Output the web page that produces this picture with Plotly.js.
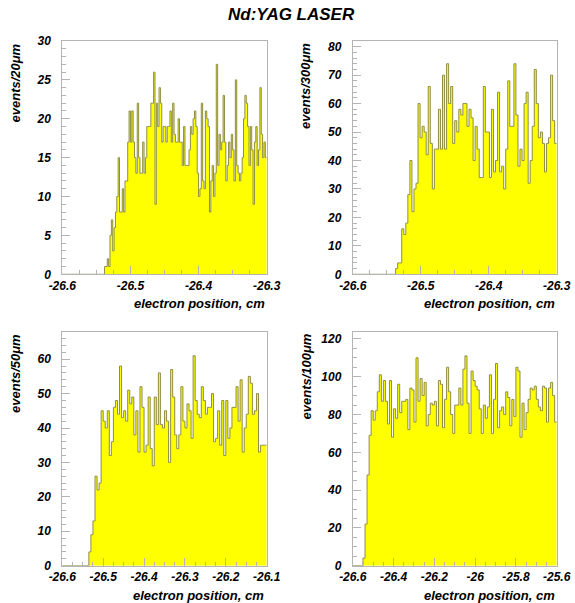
<!DOCTYPE html>
<html>
<head>
<meta charset="utf-8">
<script src="https://cdn.plot.ly/plotly-3.0.1.min.js"></script>
<style>
  html, body { margin: 0; padding: 0; background: #fff; }
  #chart { width: 575px; height: 603px; }
</style>
</head>
<body>
<div id="chart"></div>
<script>
// ---------------- data ----------------
const chartTitle = "Nd:YAG LASER";
const xTitle = "electron position, cm";

// panel 1: 20 um bins from -26.6 to -26.3
const p1Start = -26.6, p1Bin = 0.002;
const p1Counts = [0,0,0,0,0,0,0,0,0,0, 0,0,0,0,0,0,0,0,0,0, 0,0,0,0,0,0,0,0,0,0, 0,
 1,1,2,1,5,7,3,6,8,
 10,15,8,8,11,8,12,12,17,21,
 17,21,17,15,13,22,15,13,13,17,
 13,15,19,19,19,22,22,26,9,22,
 19,24,22,17,19,19,17,19,19,21,
 17,22,18,17,17,20,17,17,14,19,
 14,14,14,16,19,18,20,21,19,13,
 10,11,22,12,11,21,20,19,8,12,
 14,10,13,27,14,18,16,17,23,17,
 12,14,17,15,18,16,12,25,14,13,
 12,13,15,20,23,22,19,14,19,16,
 9,17,19,14,16,24,18,15,17,15];
const p1YTitle = "events/20μm";
const p1XTicks = [-26.6, -26.5, -26.4, -26.3];
const p1XLabels = ["-26.6", "-26.5", "-26.4", "-26.3"];
const p1YTicks = [0, 5, 10, 15, 20, 25, 30];

// panel 2: 30 um bins from -26.6 to -26.3
const p2Start = -26.6, p2Bin = 0.003;
const p2Counts = [0,0,0,0,0,0,0,0,0,0, 0,0,0,0,0,0,0,0,0,0, 0,
 2,4,4,16,14,18,28,40,22,
 30,32,60,48,52,50,42,66,46,30,
 44,44,58,44,70,44,74,60,66,46,
 54,50,58,56,60,60,52,58,55,40,
 52,44,34,34,66,50,50,34,58,36,
 40,64,36,38,30,44,68,52,52,74,
 56,38,44,40,60,64,32,40,52,72,
 60,48,50,46,36,46,48,70,54,46];
const p2YTitle = "events/300μm";
const p2XTicks = [-26.6, -26.5, -26.4, -26.3];
const p2XLabels = ["-26.6", "-26.5", "-26.4", "-26.3"];
const p2YTicks = [0, 10, 20, 30, 40, 50, 60, 70, 80];

// panel 3: 50 um bins from -26.6 to -26.1
const p3Start = -26.6, p3Bin = 0.005;
const p3Counts = [0,0,0,0,0,0,0,0,0,0, 0,0,0,
 4,9,13,26,22,24,45,
 42,40,45,32,36,46,48,44,58,43,
 45,42,51,47,49,38,45,33,52,46,
 33,35,49,34,29,49,41,56,41,40,
 45,42,30,57,49,38,34,38,52,42,
 40,47,45,37,61,48,44,43,52,48,
 44,46,46,50,36,37,45,35,48,32,
 48,37,40,46,46,52,42,54,33,40,
 44,55,53,44,45,50,33,35,35,35];
const p3YTitle = "events/50μm";
const p3XTicks = [-26.6, -26.5, -26.4, -26.3, -26.2, -26.1];
const p3XLabels = ["-26.6", "-26.5", "-26.4", "-26.3", "-26.2", "-26.1"];
const p3YTicks = [0, 10, 20, 30, 40, 50, 60];

// panel 4: 100 um bins from -26.6 to -25.6
const p4Start = -26.6, p4Bin = 0.01;
const p4Counts = [0,0,0,0,0,
 4,22,48,69,82,77,82,92,101,87,
 98,87,75,98,68,83,78,96,81,87,
 87,88,72,94,93,76,110,87,99,90,
 97,74,80,86,85,87,74,98,96,73,
 88,105,92,80,70,85,85,94,85,104,
 111,86,70,103,98,95,93,83,70,85,
 78,84,101,70,88,107,73,82,84,80,
 92,89,74,88,79,105,103,68,86,72,
 81,88,94,93,95,88,84,82,95,94,
 76,94,97,90,76];
const p4YTitle = "events/100μm";
const p4XTicks = [-26.6, -26.4, -26.2, -26, -25.8, -25.6];
const p4XLabels = ["-26.6", "-26.4", "-26.2", "-26", "-25.8", "-25.6"];
const p4YTicks = [0, 20, 40, 60, 80, 100, 120];

// ---------------- drawing ----------------
const W = 575, H = 603;
const FONT = "'Liberation Sans', Arial, Helvetica, sans-serif";
const FRAME = "#b4b4b4";
const px = v => v / W;
const py = v => 1 - v / H;

function stepTrace(start, bin, counts, xa, ya) {
  const xs = [], ys = [];
  for (let i = 0; i < counts.length; i++) { xs.push(start + i * bin); ys.push(counts[i]); }
  xs.push(start + counts.length * bin); ys.push(counts[counts.length - 1]);
  return {
    type: "scatter", mode: "lines", x: xs, y: ys, xaxis: xa, yaxis: ya,
    line: { shape: "hv", color: "#8e8e48", width: 1 },
    fill: "tozeroy", fillcolor: "#ffff00", hoverinfo: "skip", showlegend: false
  };
}

function xAxis(domain, range, tickvals, ticktext, minorDtick, anchor) {
  return {
    domain: domain, range: range, anchor: anchor,
    tickmode: "array", tickvals: tickvals, ticktext: ticktext,
    showline: true, linecolor: FRAME, linewidth: 1, mirror: true,
    ticks: "inside", ticklen: 8, tickcolor: FRAME, tickwidth: 1,
    minor: { ticks: "inside", ticklen: 4, tickcolor: FRAME, tickwidth: 1, tick0: range[0], dtick: minorDtick, showgrid: false },
    showgrid: false, zeroline: false, ticklabelstandoff: 0,
    tickfont: { family: FONT, size: 12, weight: "bold", style: "italic", color: "#000" }
  };
}
function yAxis(domain, range, tickvals, minorDtick, anchor) {
  return {
    domain: domain, range: range, anchor: anchor,
    tickmode: "array", tickvals: tickvals, ticktext: tickvals.map(String),
    showline: true, linecolor: FRAME, linewidth: 1, mirror: true,
    ticks: "inside", ticklen: 8, tickcolor: FRAME, tickwidth: 1,
    minor: { ticks: "inside", ticklen: 4, tickcolor: FRAME, tickwidth: 1, tick0: 0, dtick: minorDtick, showgrid: false },
    showgrid: false, zeroline: false, ticklabelstandoff: 8,
    tickfont: { family: FONT, size: 12, weight: "bold", style: "italic", color: "#000" }
  };
}

const traces = [
  stepTrace(p1Start, p1Bin, p1Counts, "x", "y"),
  stepTrace(p2Start, p2Bin, p2Counts, "x2", "y2"),
  stepTrace(p3Start, p3Bin, p3Counts, "x3", "y3"),
  stepTrace(p4Start, p4Bin, p4Counts, "x4", "y4")
];

const topDom = [py(274.3), py(41)];
const botDom = [py(565.7), py(332.3)];
const leftDom = [px(62.3), px(266.7)];
const rightDom = [px(352.8), px(556.7)];

function ann(text, x, y, opts) {
  return Object.assign({
    text: text, xref: "paper", yref: "paper", x: px(x), y: py(y), showarrow: false,
    font: { family: FONT, size: 13, weight: "bold", style: "italic", color: "#000" }
  }, opts);
}

const layout = {
  width: W, height: H,
  margin: { l: 0, r: 0, t: 0, b: 0 },
  paper_bgcolor: "#fff", plot_bgcolor: "#fff",
  showlegend: false,
  xaxis: xAxis(leftDom, [-26.6, -26.3], p1XTicks, p1XLabels, 0.025, "y"),
  yaxis: yAxis(topDom, [0, 30], p1YTicks, 1, "x"),
  xaxis2: xAxis(rightDom, [-26.6, -26.3], p2XTicks, p2XLabels, 0.025, "y2"),
  yaxis2: yAxis(topDom, [0, 82], p2YTicks, 2, "x2"),
  xaxis3: xAxis(leftDom, [-26.6, -26.1], p3XTicks, p3XLabels, 0.025, "y3"),
  yaxis3: yAxis(botDom, [0, 67.8], p3YTicks, 2, "x3"),
  xaxis4: xAxis(rightDom, [-26.6, -25.6], p4XTicks, p4XLabels, 0.05, "y4"),
  yaxis4: yAxis(botDom, [0, 123.5], p4YTicks, 5, "x4"),
  annotations: [
    ann(chartTitle, 291, 15, { xanchor: "center", yanchor: "middle",
      font: { family: FONT, size: 17, weight: "bold", style: "italic", color: "#000" } }),
    ann(xTitle, 267, 303, { xanchor: "right", yanchor: "middle" }),
    ann(xTitle, 557, 303, { xanchor: "right", yanchor: "middle" }),
    ann(xTitle, 266, 595, { xanchor: "right", yanchor: "middle" }),
    ann(xTitle, 557, 595, { xanchor: "right", yanchor: "middle" }),
    ann(p1YTitle, 15.5, 41.5, { textangle: -90, xanchor: "center", yanchor: "top" }),
    ann(p2YTitle, 305.5, 41.5, { textangle: -90, xanchor: "center", yanchor: "top" }),
    ann(p3YTitle, 15.5, 332, { textangle: -90, xanchor: "center", yanchor: "top" }),
    ann(p4YTitle, 305.5, 332, { textangle: -90, xanchor: "center", yanchor: "top" })
  ]
};

Plotly.newPlot("chart", traces, layout, { staticPlot: true, displayModeBar: false });
</script>
</body>
</html>
